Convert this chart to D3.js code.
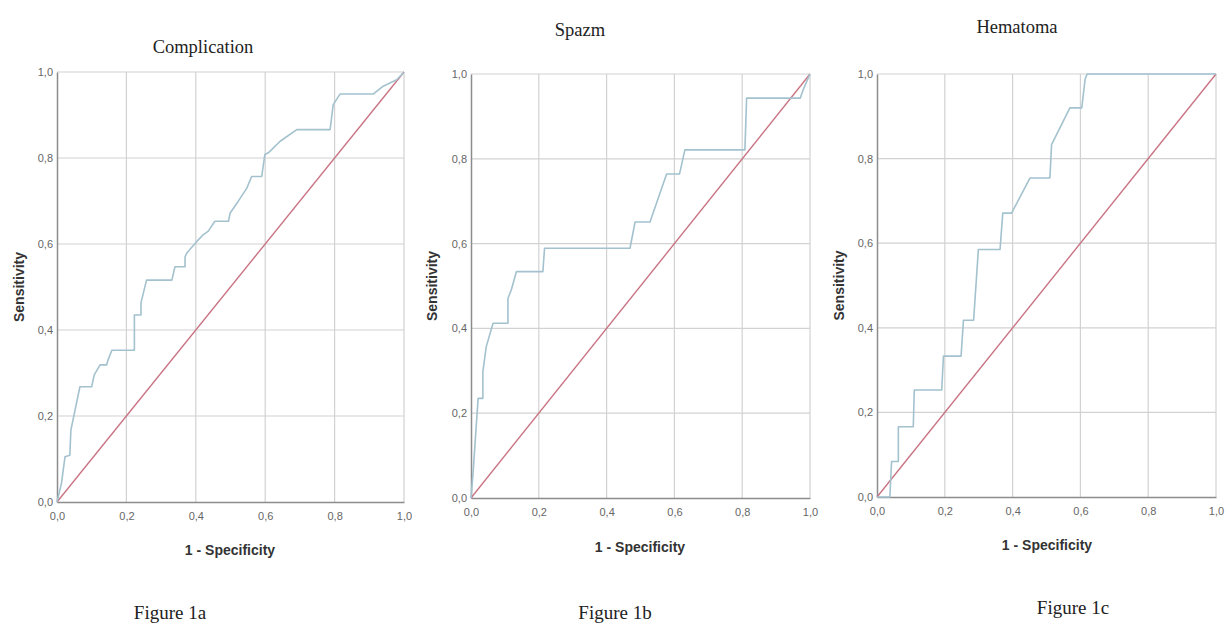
<!DOCTYPE html>
<html>
<head>
<meta charset="utf-8">
<script src="https://cdn.jsdelivr.net/npm/d3@7/dist/d3.min.js"></script>
<style>
  html, body { margin: 0; padding: 0; background: #fff; }
  svg { display: block; }
</style>
</head>
<body>
<svg id="chart" width="1227" height="624"></svg>
<script>
// ---- Data ----
const panelTitles = ["Complication", "Spazm", "Hematoma"];
const figureLabels = ["Figure 1a", "Figure 1b", "Figure 1c"];
const tickValues = [0, 0.2, 0.4, 0.6, 0.8, 1.0];
const tickLabels = ["0,0", "0,2", "0,4", "0,6", "0,8", "1,0"];
const xAxisTitle = "1 - Specificity";
const yAxisTitle = "Sensitivity";

// Complication ROC (1 - specificity, sensitivity)
const complicationFpr = [0, 0.013, 0.023, 0.037, 0.040, 0.066, 0.100, 0.107, 0.124, 0.143, 0.147, 0.158, 0.223, 0.223, 0.242, 0.242, 0.258, 0.331, 0.340, 0.369, 0.369, 0.374, 0.403, 0.422, 0.436, 0.455, 0.494, 0.499, 0.522, 0.547, 0.561, 0.590, 0.599, 0.609, 0.643, 0.691, 0.787, 0.796, 0.816, 0.912, 0.940, 0.979, 1.0];
const complicationTpr = [0, 0.044, 0.105, 0.109, 0.167, 0.268, 0.268, 0.295, 0.319, 0.319, 0.330, 0.353, 0.353, 0.435, 0.435, 0.463, 0.516, 0.516, 0.547, 0.547, 0.570, 0.579, 0.606, 0.622, 0.630, 0.653, 0.653, 0.672, 0.699, 0.730, 0.757, 0.757, 0.808, 0.812, 0.839, 0.866, 0.866, 0.924, 0.949, 0.949, 0.967, 0.982, 1.0];

// Spazm ROC
const spazmFpr = [0, 0.006, 0.016, 0.021, 0.035, 0.035, 0.045, 0.065, 0.109, 0.109, 0.119, 0.134, 0.212, 0.217, 0.469, 0.484, 0.528, 0.577, 0.615, 0.631, 0.808, 0.813, 0.971, 0.980, 1.0];
const spazmTpr = [0, 0.058, 0.176, 0.235, 0.235, 0.298, 0.357, 0.412, 0.412, 0.471, 0.491, 0.534, 0.534, 0.589, 0.589, 0.651, 0.651, 0.764, 0.764, 0.821, 0.821, 0.943, 0.943, 0.963, 1.0];

// Hematoma ROC
const hematomaFpr = [0, 0.038, 0.043, 0.063, 0.063, 0.107, 0.110, 0.191, 0.196, 0.248, 0.255, 0.285, 0.299, 0.363, 0.371, 0.397, 0.451, 0.510, 0.515, 0.569, 0.604, 0.614, 0.620, 1.0];
const hematomaTpr = [0, 0, 0.084, 0.084, 0.166, 0.166, 0.253, 0.253, 0.333, 0.333, 0.418, 0.418, 0.585, 0.585, 0.671, 0.671, 0.754, 0.754, 0.833, 0.920, 0.920, 0.988, 1.0, 1.0];

const rocFpr = [complicationFpr, spazmFpr, hematomaFpr];
const rocTpr = [complicationTpr, spazmTpr, hematomaTpr];

// ---- Layout (positions / styles) ----
const panels = [
  { x0: 57,  x1: 404,  y0: 72, y1: 502, title: [203, 53], xt: [230, 555], yt: 19,  fig: [170, 619] },
  { x0: 471, x1: 810,  y0: 74, y1: 498, title: [580, 36], xt: [640, 552], yt: 432, fig: [615, 619] },
  { x0: 877, x1: 1216, y0: 74, y1: 497, title: [1017, 33], xt: [1047, 550], yt: 839, fig: [1073, 614] }
];

const svg = d3.select("#chart");
const gridColor = "#d2d2d2";
const axisColor = "#8c8c8c";
const rocColor = "#a3c2ce";
const diagColor = "#c97483";

panels.forEach((p, i) => {
  const x = d3.scaleLinear().domain([0, 1]).range([p.x0, p.x1]);
  const y = d3.scaleLinear().domain([0, 1]).range([p.y1, p.y0]);
  const g = svg.append("g");

  // gridlines
  g.append("g").selectAll("line.v").data(tickValues.slice(1)).join("line")
    .attr("x1", d => x(d)).attr("x2", d => x(d))
    .attr("y1", y(1)).attr("y2", y(0))
    .attr("stroke", gridColor).attr("stroke-width", 1.2);
  g.append("g").selectAll("line.h").data(tickValues.slice(1)).join("line")
    .attr("y1", d => y(d)).attr("y2", d => y(d))
    .attr("x1", x(0)).attr("x2", x(1))
    .attr("stroke", gridColor).attr("stroke-width", 1.2);

  // axes
  const xAxis = d3.axisBottom(x).tickValues(tickValues)
    .tickFormat((d, k) => tickLabels[k]).tickSize(0).tickPadding(10);
  const yAxis = d3.axisLeft(y).tickValues(tickValues)
    .tickFormat((d, k) => tickLabels[k]).tickSize(0).tickPadding(4);

  const gx = g.append("g").attr("transform", `translate(0,${p.y1})`).call(xAxis);
  const gy = g.append("g").attr("transform", `translate(${p.x0},0)`).call(yAxis);
  [gx, gy].forEach(a => {
    a.select(".domain").attr("stroke", axisColor).attr("stroke-width", 1.5);
    a.selectAll("text").attr("fill", "#666")
      .style("font-family", "'Liberation Sans', Arial, sans-serif")
      .style("font-size", "11px");
  });

  // diagonal reference
  g.append("line")
    .attr("x1", x(0)).attr("y1", y(0)).attr("x2", x(1)).attr("y2", y(1))
    .attr("stroke", diagColor).attr("stroke-width", 1.4);

  // ROC curve
  const pts = rocFpr[i].map((f, k) => [f, rocTpr[i][k]]);
  const line = d3.line().x(d => x(d[0])).y(d => y(d[1]));
  g.append("path").datum(pts).attr("d", line)
    .attr("fill", "none").attr("stroke", rocColor).attr("stroke-width", 1.6)
    .attr("stroke-linejoin", "round");

  // texts
  g.append("text").attr("x", p.title[0]).attr("y", p.title[1])
    .attr("text-anchor", "middle")
    .style("font-family", "'Liberation Serif', 'Times New Roman', serif")
    .style("font-size", "18.5px").attr("fill", "#222").text(panelTitles[i]);

  g.append("text").attr("x", p.xt[0]).attr("y", p.xt[1])
    .attr("text-anchor", "middle")
    .style("font-family", "'Liberation Sans', Arial, sans-serif")
    .style("font-size", "14px").style("font-weight", "bold")
    .attr("fill", "#333").text(xAxisTitle);

  g.append("text")
    .attr("transform", `translate(${p.yt + 5},${(p.y0 + p.y1) / 2}) rotate(-90)`)
    .attr("text-anchor", "middle")
    .style("font-family", "'Liberation Sans', Arial, sans-serif")
    .style("font-size", "14px").style("font-weight", "bold")
    .attr("fill", "#333").text(yAxisTitle);

  g.append("text").attr("x", p.fig[0]).attr("y", p.fig[1])
    .attr("text-anchor", "middle")
    .style("font-family", "'Liberation Serif', 'Times New Roman', serif")
    .style("font-size", "19px").attr("fill", "#222").text(figureLabels[i]);
});
</script>
</body>
</html>
